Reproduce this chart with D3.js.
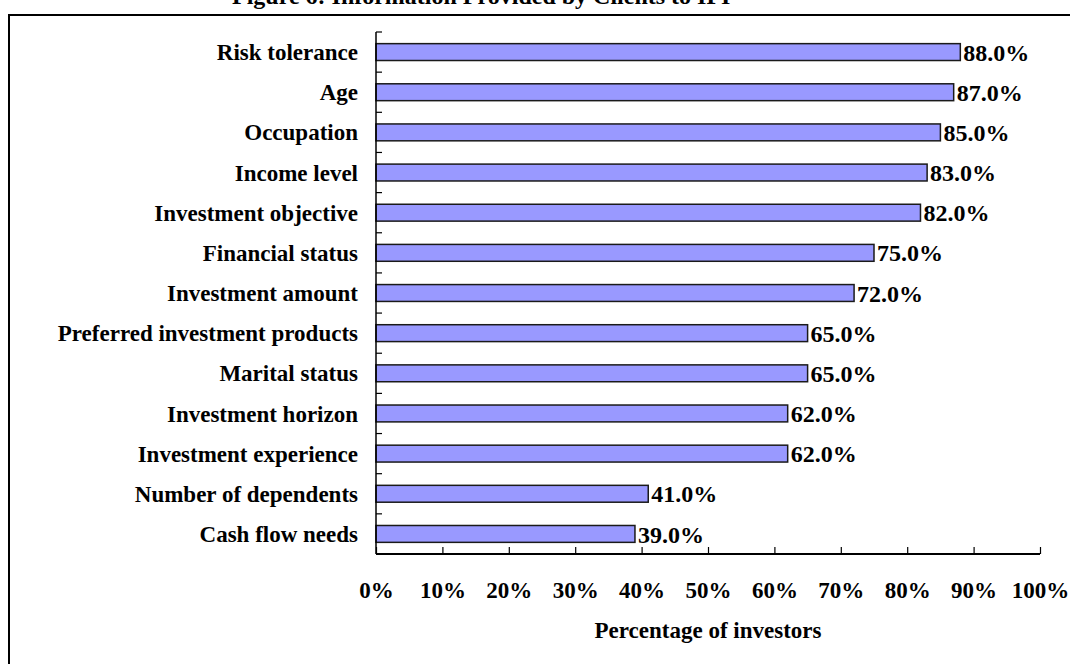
<!DOCTYPE html>
<html><head><meta charset="utf-8">
<script src="https://cdn.jsdelivr.net/npm/d3@7"></script>
<style>body{margin:0;background:#fff;} svg{display:block;} text{font-family:"Liberation Serif","Times New Roman",serif;font-weight:bold;fill:#000;}</style>
</head><body>
<svg id="chart" width="1070" height="664"></svg>
<script>
const categories = ["Risk tolerance","Age","Occupation","Income level","Investment objective","Financial status","Investment amount","Preferred investment products","Marital status","Investment horizon","Investment experience","Number of dependents","Cash flow needs"];
const values = [88,87,85,83,82,75,72,65,65,62,62,41,39];
const xTicks = [0,10,20,30,40,50,60,70,80,90,100];
const titleText = "Figure 6:  Information Provided by Clients to IFI";
const xAxisTitle = "Percentage of investors";

(function(){
const svg = d3.select("#chart");
const pL = 376, pR = 1040, pT = 32, pB = 554;
const fs = 23;

// frame
svg.append("path").attr("d", "M9,670 V15 H1075").attr("fill","none").attr("stroke","#000").attr("stroke-width",2);
svg.append("text").attr("x",232).attr("y",4).attr("font-size",24).text(titleText);

const x = d3.scaleLinear().domain([0,100]).range([pL,pR]);
const y = d3.scaleBand().domain(categories).range([pT,pB]).paddingInner(0.58).paddingOuter(0.29);

// bars
svg.append("g").selectAll("rect").data(values).join("rect")
  .attr("x", x(0)).attr("y",(d,i)=>y(categories[i]))
  .attr("width", d=>x(d)-x(0)).attr("height", y.bandwidth())
  .attr("fill","#9999FF").attr("stroke","#1a1a1a").attr("stroke-width",1.5);

// value labels
svg.append("g").selectAll("text").data(values).join("text")
  .attr("x", d=>x(d)+3).attr("y",(d,i)=>y(categories[i])+y.bandwidth()/2)
  .attr("dy","0.36em").attr("font-size",24).text(d=>d.toFixed(1)+"%");

// category labels
const step = (pB-pT)/categories.length;
svg.append("g").selectAll("text").data(categories).join("text")
  .attr("x",358).attr("y",(d)=>y(d)+y.bandwidth()/2)
  .attr("dy","0.35em").attr("text-anchor","end").attr("font-size",fs).text(d=>d);

// y axis line and inside ticks
const yg = svg.append("g");
yg.append("line").attr("x1",pL).attr("x2",pL).attr("y1",pT).attr("y2",pB).attr("stroke","#000").attr("stroke-width",1.5);
yg.selectAll("line.t").data(d3.range(categories.length)).join("line").attr("class","t")
  .attr("x1",pL).attr("x2",pL+6).attr("y1",i=>pT+i*step).attr("y2",i=>pT+i*step).attr("stroke","#000").attr("stroke-width",1.2);

// x axis
const xAxis = d3.axisBottom(x).tickValues(xTicks).tickSize(-7).tickFormat(d=>d+"%").tickPadding(28);
const xg = svg.append("g").attr("transform",`translate(0,${pB})`).call(xAxis);
xg.select(".domain").attr("stroke","#000").attr("stroke-width",2).attr("d",`M${pL},0H${pR}`);
xg.selectAll(".tick line").attr("stroke","#000").attr("stroke-width",1.2);
xg.selectAll(".tick text").attr("font-size",fs).attr("font-family",'"Liberation Serif",serif').attr("font-weight","bold").attr("fill","#000");

svg.append("text").attr("x",708).attr("y",638).attr("text-anchor","middle").attr("font-size",fs).text(xAxisTitle);
})();
</script>
</body></html>
